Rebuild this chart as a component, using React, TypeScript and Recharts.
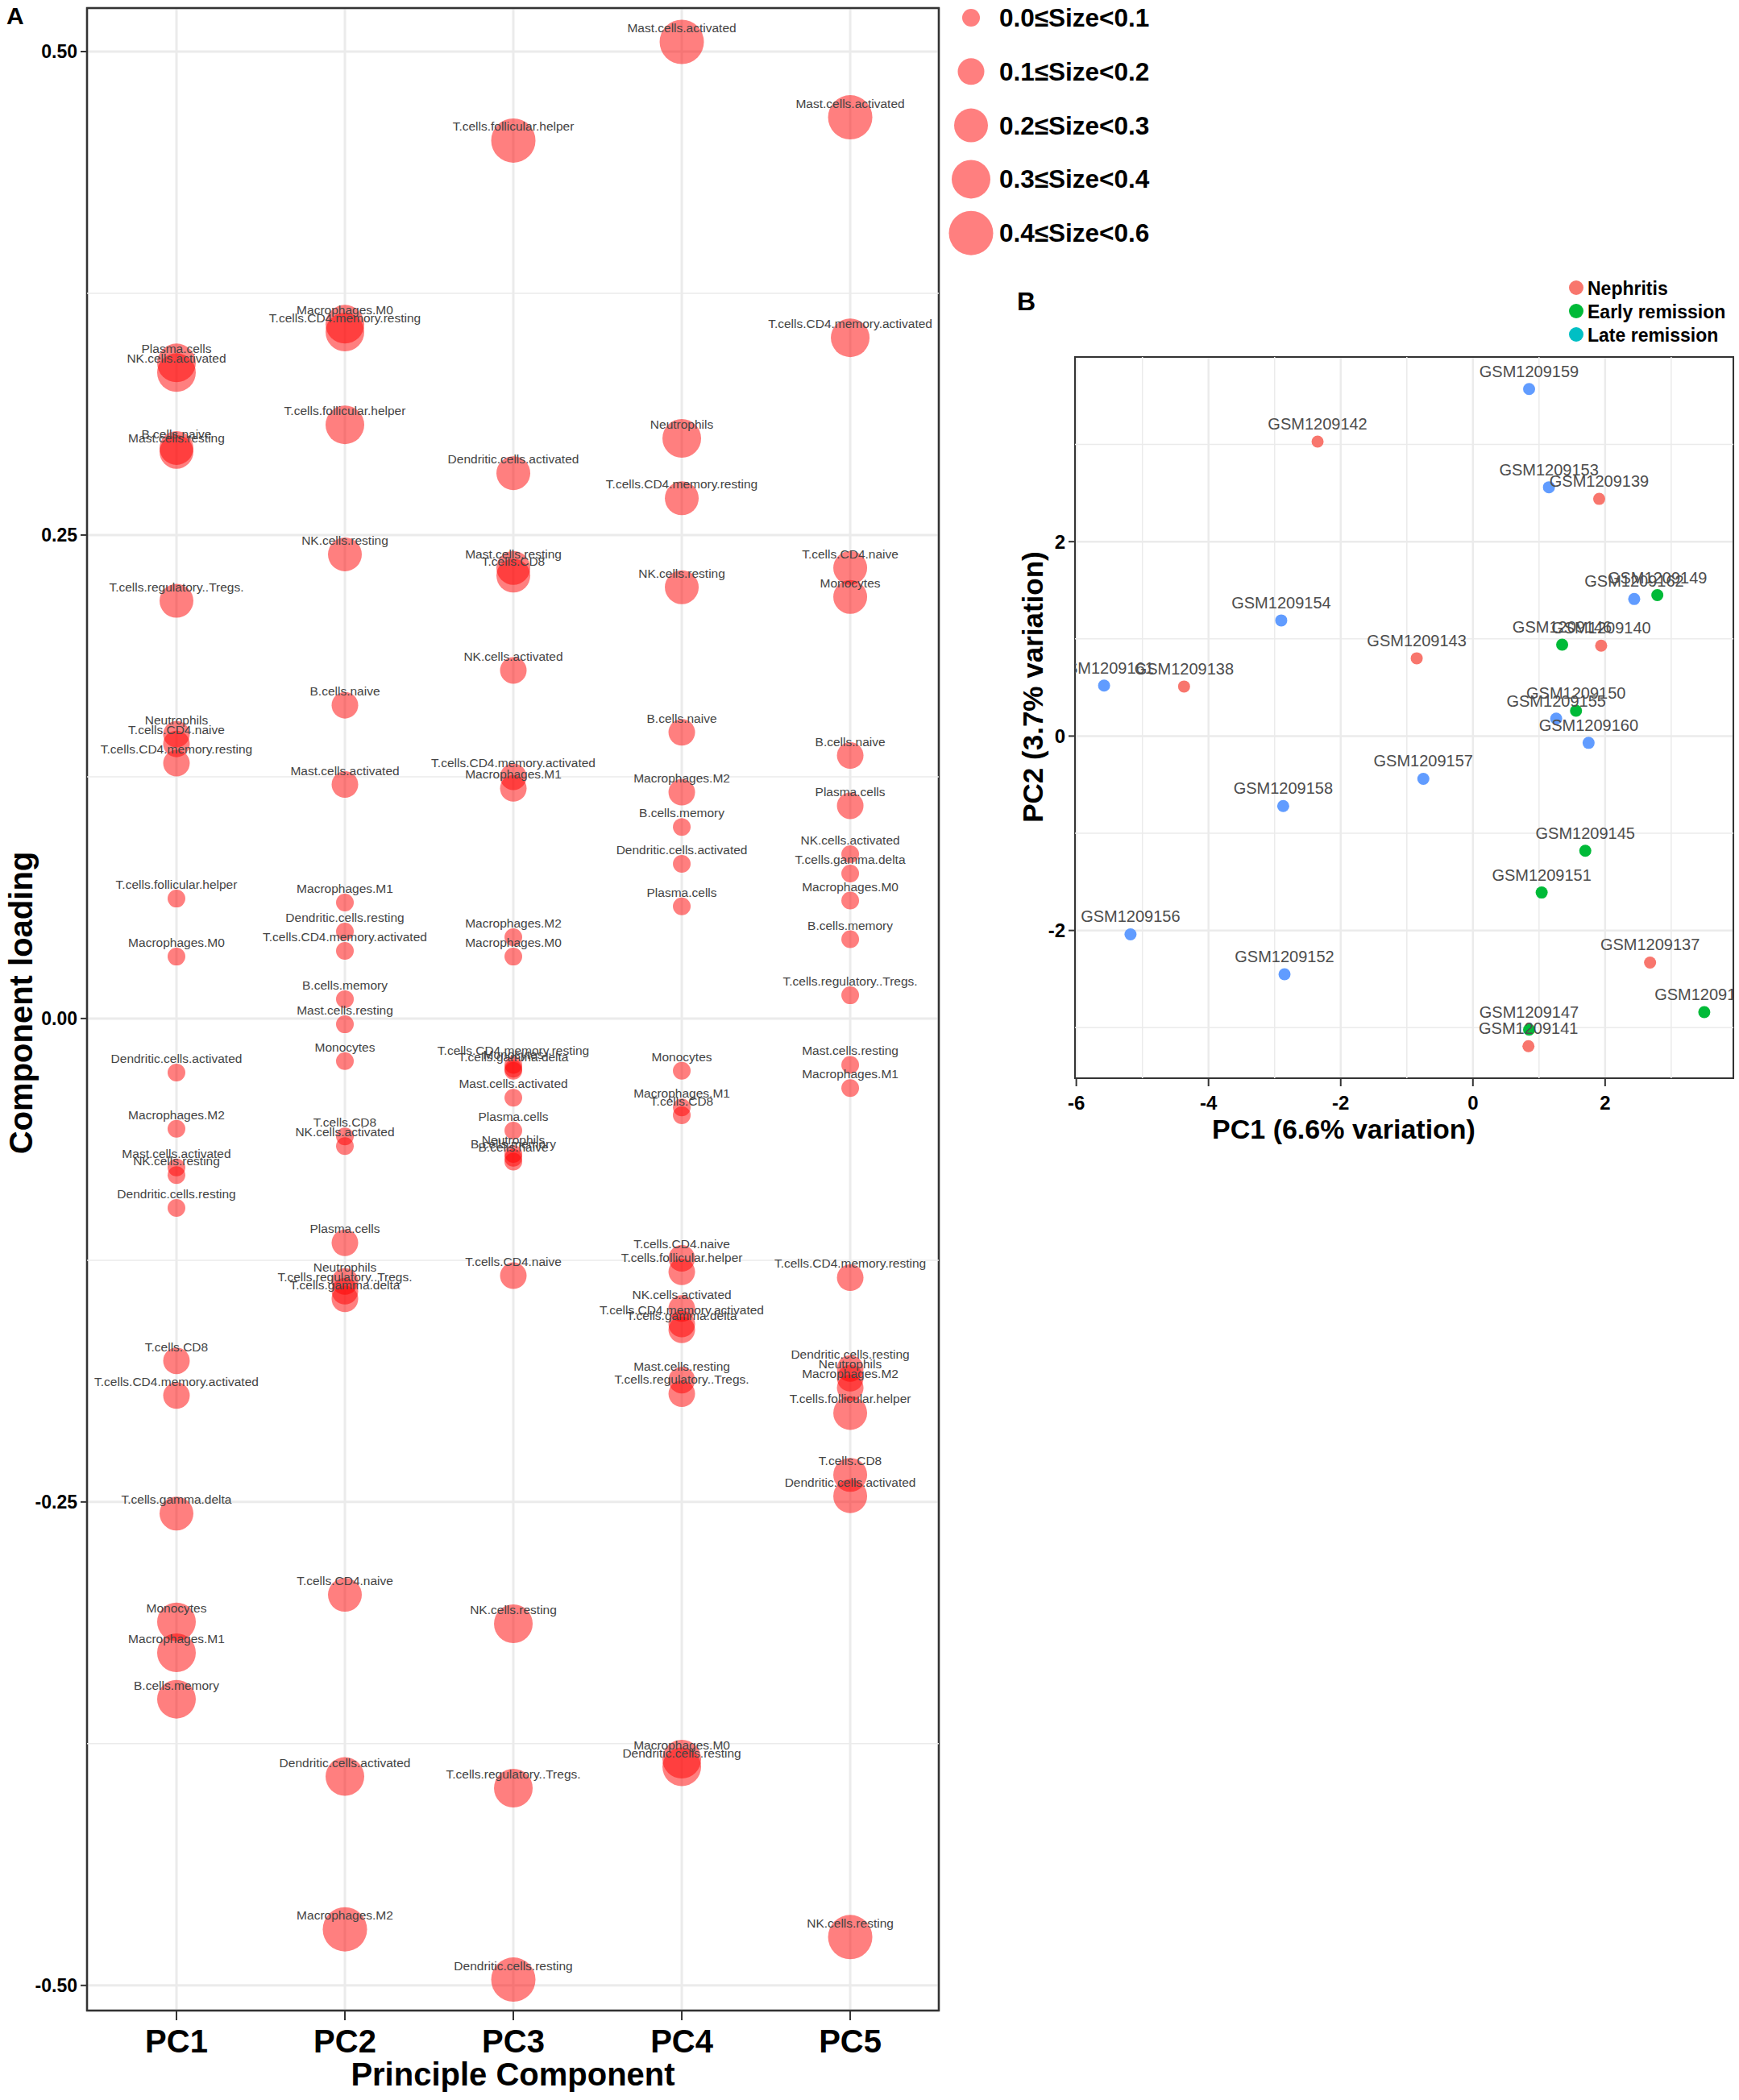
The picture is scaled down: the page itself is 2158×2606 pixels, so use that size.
import React from 'react'
import {
  ScatterChart, Scatter, XAxis, YAxis, CartesianGrid, ReferenceLine, ReferenceArea,
} from 'recharts'

// ---- panel A: component loadings ----
const cellTypes = [
  'B.cells.naive', 'B.cells.memory', 'Plasma.cells', 'T.cells.CD8', 'T.cells.CD4.naive',
  'T.cells.CD4.memory.resting', 'T.cells.CD4.memory.activated', 'T.cells.follicular.helper',
  'T.cells.regulatory..Tregs.', 'T.cells.gamma.delta', 'NK.cells.resting', 'NK.cells.activated',
  'Monocytes', 'Macrophages.M0', 'Macrophages.M1', 'Macrophages.M2', 'Dendritic.cells.resting',
  'Dendritic.cells.activated', 'Mast.cells.resting', 'Mast.cells.activated', 'Neutrophils',
]
const pc1Loadings = [0.295, -0.352, 0.339, -0.177, 0.142, 0.132, -0.195, 0.062, 0.216, -0.256, -0.081, 0.334, -0.312, 0.032, -0.328, -0.057, -0.098, -0.028, 0.293, -0.077, 0.147]
const pc2Loadings = [0.162, 0.010, -0.116, -0.061, -0.298, 0.355, 0.035, 0.307, -0.141, -0.145, 0.240, -0.066, -0.022, 0.359, 0.060, -0.471, 0.045, -0.392, -0.003, 0.121, -0.136]
const pc3Loadings = [-0.074, -0.072, -0.058, 0.229, -0.133, -0.024, 0.125, 0.454, -0.398, -0.027, -0.313, 0.180, -0.026, 0.032, 0.119, 0.042, -0.497, 0.282, 0.233, -0.041, -0.070]
const pc4Loadings = [0.148, 0.099, 0.058, -0.050, -0.124, 0.269, -0.158, -0.131, -0.194, -0.161, 0.223, -0.150, -0.027, -0.383, -0.046, 0.117, -0.387, 0.080, -0.187, 0.505, 0.300]
const pc5Loadings = [0.136, 0.041, 0.110, -0.236, 0.233, -0.134, 0.352, -0.204, 0.012, 0.075, -0.475, 0.085, 0.218, 0.061, -0.036, -0.191, -0.181, -0.247, -0.024, 0.466, -0.186]
const components = ['PC1', 'PC2', 'PC3', 'PC4', 'PC5']
const loadingTicks = [-0.5, -0.25, 0, 0.25, 0.5]
const minorLoadingTicks = [-0.375, -0.125, 0.125, 0.375]
const sizeBreaks = [0.1, 0.2, 0.3, 0.4, 0.6]
const sizeLabels = ['0.0≤Size<0.1', '0.1≤Size<0.2', '0.2≤Size<0.3', '0.3≤Size<0.4', '0.4≤Size<0.6']

// ---- panel B: sample scores ----
const sampleIds = [
  'GSM1209137', 'GSM1209138', 'GSM1209139', 'GSM1209140', 'GSM1209141', 'GSM1209142', 'GSM1209143',
  'GSM1209144', 'GSM1209145', 'GSM1209146', 'GSM1209147', 'GSM1209149', 'GSM1209150', 'GSM1209151',
  'GSM1209152', 'GSM1209153', 'GSM1209154', 'GSM1209155', 'GSM1209156', 'GSM1209157', 'GSM1209158',
  'GSM1209159', 'GSM1209160', 'GSM1209161', 'GSM1209162',
]
const pc1Scores = [2.68, -4.37, 1.91, 1.94, 0.84, -2.35, -0.85, 3.50, 1.70, 1.35, 0.85, 2.79, 1.56, 1.04, -2.85, 1.15, -2.90, 1.26, -5.18, -0.75, -2.87, 0.85, 1.75, -5.58, 2.44]
const pc2Scores = [-2.33, 0.51, 2.44, 0.93, -3.19, 3.03, 0.80, -2.84, -1.18, 0.94, -3.02, 1.45, 0.26, -1.61, -2.45, 2.56, 1.19, 0.18, -2.04, -0.44, -0.72, 3.57, -0.07, 0.52, 1.41]
const sampleGroups = ['N', 'N', 'N', 'N', 'N', 'N', 'N', 'E', 'E', 'E', 'E', 'E', 'E', 'E', 'L', 'L', 'L', 'L', 'L', 'L', 'L', 'L', 'L', 'L', 'L']
const groupNames = ['Nephritis', 'Early remission', 'Late remission']
const scoreTicksX = [-6, -4, -2, 0, 2]
const minorScoreX = [-5, -3, -1, 1, 3]
const scoreTicksY = [-2, 0, 2]
const minorScoreY = [-3, -1, 1, 3]

const allLoadings = [pc1Loadings, pc2Loadings, pc3Loadings, pc4Loadings, pc5Loadings]
const loadingRows = components.flatMap((_, i) =>
  cellTypes.map((name, j) => ({ pc: i + 1, loading: allLoadings[i][j], name })),
)
const sampleRows = sampleIds.map((id, i) => ({ id, pc1: pc1Scores[i], pc2: pc2Scores[i], group: sampleGroups[i] }))

const bubbleDiam = [22, 33, 42, 48, 55]
const sizeBin = (v: number) => {
  const k = sizeBreaks.findIndex(b => Math.abs(v) < b)
  return k < 0 ? sizeBreaks.length - 1 : k
}
const pointColor: Record<string, string> = { N: '#F8766D', E: '#00BA38', L: '#619CFF' }
const legendColor = ['#F8766D', '#00BA38', '#00BFC4']

const Bubble = (p: any) => (
  <circle cx={p.cx} cy={p.cy} r={bubbleDiam[sizeBin(p.payload.loading)] / 2} fill="#ff0000" fillOpacity={0.5} />
)
const BubbleText = (p: any) => (
  <text x={p.cx} y={p.cy - 12} textAnchor="middle" fontSize={15.5} fill="#444">{p.payload.name}</text>
)
const Dot = (p: any) => <circle cx={p.cx} cy={p.cy} r={7.5} fill={pointColor[p.payload.group]} />
const DotText = (p: any) => (
  <text x={p.cx} y={p.cy - 15} textAnchor="middle" fontSize={20} fill="#4d4d4d">{p.payload.id}</text>
)

const axisTitle = (text: string, size: number, dx: number, dy: number, vertical: boolean) => (props: any) => {
  const vb = props.viewBox || { x: 0, y: 0, width: 0, height: 0 }
  const x = vertical ? vb.x + dx : vb.x + vb.width / 2 + dx
  const y = vertical ? vb.y + vb.height / 2 + dy : vb.y + dy
  return (
    <text x={x} y={y} textAnchor="middle" fontSize={size} fontWeight={700} fill="#000"
      transform={vertical ? `rotate(-90 ${x} ${y})` : undefined}>{text}</text>
  )
}

const xDomA: [number, number] = [0.469, 5.526]
const yDomA: [number, number] = [-0.513, 0.5225]
const xDomB: [number, number] = [-6.02, 3.94]
const yDomB: [number, number] = [-3.52, 3.9]

export default function App() {
  return (
    <div style={{ position: 'absolute', left: 0, top: 0, width: 2158, height: 2606, background: '#fff', fontFamily: '"Liberation Sans", Arial, sans-serif' }}>
      <div style={{ position: 'absolute', left: 0, top: 0 }}>
        <ScatterChart width={1180} height={2606} margin={{ top: 10, right: 15, bottom: 11, left: 0 }}>
          <CartesianGrid stroke="#EBEBEB" strokeWidth={3} />
          {minorLoadingTicks.map(v => (
            <ReferenceLine key={v} y={v} stroke="#EBEBEB" strokeWidth={1.5} />
          ))}
          <ReferenceArea x1={xDomA[0]} x2={xDomA[1]} y1={yDomA[0]} y2={yDomA[1]} fill="none" fillOpacity={0} stroke="#333" strokeWidth={2.5} />
          <XAxis type="number" dataKey="pc" domain={xDomA} ticks={[1, 2, 3, 4, 5]}
            tickFormatter={(v: number) => components[v - 1]} height={100} axisLine={false}
            tickSize={12} tickMargin={12} tickLine={{ stroke: '#333', strokeWidth: 2 }}
            tick={{ fontSize: 40, fontWeight: 700, fill: '#000' }}
            label={{ content: axisTitle('Principle Component', 40, 0, 93, false) }} />
          <YAxis type="number" dataKey="loading" domain={yDomA} ticks={loadingTicks}
            tickFormatter={(v: number) => v.toFixed(2)} width={108} axisLine={false}
            tickSize={8} tickMargin={4} tickLine={{ stroke: '#333', strokeWidth: 2 }}
            tick={{ fontSize: 23, fontWeight: 700, fill: '#000' }}
            label={{ content: axisTitle('Component loading', 40, 40, -8, true) }} />
          <Scatter data={loadingRows} shape={Bubble} isAnimationActive={false} />
          <Scatter data={loadingRows} shape={BubbleText} isAnimationActive={false} />
        </ScatterChart>
      </div>

      <div style={{ position: 'absolute', left: 1240, top: 330 }}>
        <ScatterChart width={918} height={1100} margin={{ top: 113, right: 7, bottom: 7, left: 34 }}>
          <CartesianGrid stroke="#EBEBEB" strokeWidth={2.5} />
          {minorScoreX.map(v => (
            <ReferenceLine key={'x' + v} x={v} stroke="#EBEBEB" strokeWidth={1.5} />
          ))}
          {minorScoreY.map(v => (
            <ReferenceLine key={'y' + v} y={v} stroke="#EBEBEB" strokeWidth={1.5} />
          ))}
          <ReferenceArea x1={xDomB[0]} x2={xDomB[1]} y1={yDomB[0]} y2={yDomB[1]} fill="none" fillOpacity={0} stroke="#333" strokeWidth={2} />
          <XAxis type="number" dataKey="pc1" domain={xDomB} ticks={scoreTicksX} allowDataOverflow
            height={85} axisLine={false} tickSize={10} tickMargin={12}
            tickLine={{ stroke: '#333', strokeWidth: 2 }}
            tick={{ fontSize: 24, fontWeight: 700, fill: '#000' }}
            label={{ content: axisTitle('PC1 (6.6% variation)', 34, -75, 75, false) }} />
          <YAxis type="number" dataKey="pc2" domain={yDomB} ticks={scoreTicksY} allowDataOverflow
            width={60} axisLine={false} tickSize={8} tickMargin={4}
            tickLine={{ stroke: '#333', strokeWidth: 2 }}
            tick={{ fontSize: 24, fontWeight: 700, fill: '#000' }}
            label={{ content: axisTitle('PC2 (3.7% variation)', 35, 20, -38, true) }} />
          <Scatter data={sampleRows} shape={Dot} isAnimationActive={false} />
          <Scatter data={sampleRows} shape={DotText} isAnimationActive={false} />
        </ScatterChart>
      </div>

      <svg width={2158} height={2606} style={{ position: 'absolute', left: 0, top: 0, pointerEvents: 'none' }}>
        <text x={8} y={30} fontSize={30} fontWeight={700} fill="#000">A</text>
        <text x={1262} y={385} fontSize={32} fontWeight={700} fill="#000">B</text>
        {sizeLabels.map((lab, i) => (
          <g key={lab}>
            <circle cx={1205} cy={22 + i * 66.8} r={bubbleDiam[i] / 2} fill="#ff0000" fillOpacity={0.5} />
            <text x={1240} y={22 + i * 66.8 + 11} fontSize={31.5} fontWeight={700} fill="#000">{lab}</text>
          </g>
        ))}
        {groupNames.map((g, i) => (
          <g key={g}>
            <circle cx={1956} cy={357 + i * 29} r={9} fill={legendColor[i]} />
            <text x={1970} y={357 + i * 29 + 8.5} fontSize={23} fontWeight={700} fill="#000">{g}</text>
          </g>
        ))}
      </svg>
    </div>
  )
}
